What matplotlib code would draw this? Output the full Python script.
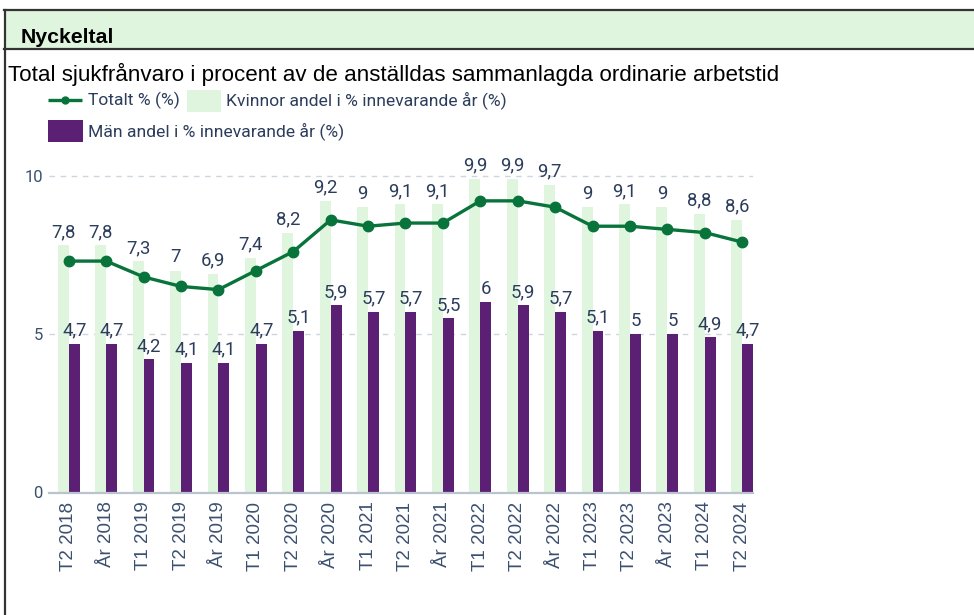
import matplotlib
matplotlib.use('Agg')
import matplotlib.pyplot as plt
import numpy as np
from matplotlib.lines import Line2D
from matplotlib.patches import Rectangle

perioder = ['T2 2018', 'År 2018', 'T1 2019', 'T2 2019', 'År 2019', 'T1 2020', 'T2 2020',
            'År 2020', 'T1 2021', 'T2 2021', 'År 2021', 'T1 2022', 'T2 2022', 'År 2022',
            'T1 2023', 'T2 2023', 'År 2023', 'T1 2024', 'T2 2024']
kvinnor = [7.8, 7.8, 7.3, 7.0, 6.9, 7.4, 8.2, 9.2, 9.0, 9.1, 9.1, 9.9, 9.9, 9.7, 9.0, 9.1, 9.0, 8.8, 8.6]
man = [4.7, 4.7, 4.2, 4.1, 4.1, 4.7, 5.1, 5.9, 5.7, 5.7, 5.5, 6.0, 5.9, 5.7, 5.1, 5.0, 5.0, 4.9, 4.7]
totalt = [7.3, 7.3, 6.8, 6.5, 6.4, 7.0, 7.6, 8.6, 8.4, 8.5, 8.5, 9.2, 9.2, 9.0, 8.4, 8.4, 8.3, 8.2, 7.9]

W, H = 974, 615
GRON_LJUS = '#dff5dd'
LILA = '#5b1f74'
GRON = '#08733a'
TXT = '#2c3d5c'
AXTXT = '#3b5070'

def fx(x): return x / W
def fy(y): return 1 - y / H

fig = plt.figure(figsize=(W / 100, H / 100), dpi=100)

# ram och rubrikfält
fig.add_artist(Rectangle((fx(5), fy(49)), 1 - fx(5), fy(10) - fy(49), transform=fig.transFigure,
                         facecolor=GRON_LJUS, edgecolor='none', zorder=0))
fig.add_artist(Line2D([fx(4), 1], [fy(10), fy(10)], transform=fig.transFigure, color='#333333', lw=1.6))
fig.add_artist(Line2D([fx(4), 1], [fy(49), fy(49)], transform=fig.transFigure, color='#333333', lw=1.6))
fig.add_artist(Line2D([fx(5), fx(5)], [fy(10), 0], transform=fig.transFigure, color='#333333', lw=1.6))
fig.text(fx(21), fy(43), 'Nyckeltal', fontsize=15.3, fontweight='bold', family='Liberation Sans',
         color='black', va='baseline')
fig.text(fx(8), fy(80.5), 'Total sjukfrånvaro i procent av de anställdas sammanlagda ordinarie arbetstid',
         fontsize=16.1, family='Liberation Sans', color='black', va='baseline')

# legend (flödeslayout)
fig.add_artist(Line2D([fx(48), fx(82)], [fy(100), fy(100)], transform=fig.transFigure, color=GRON,
                      lw=2.4, solid_capstyle='butt'))
fig.add_artist(Line2D([fx(65)], [fy(100)], transform=fig.transFigure, color=GRON, marker='o', markersize=5))
fig.text(fx(88), fy(100), 'Totalt % (%)', fontsize=12.6, family='Roboto', color=TXT, va='center')
fig.add_artist(Rectangle((fx(187), fy(112)), fx(34), fy(90) - fy(112), transform=fig.transFigure,
                         facecolor=GRON_LJUS, edgecolor='none'))
fig.text(fx(226), fy(100), 'Kvinnor andel i % innevarande år (%)', fontsize=12.6, family='Roboto',
         color=TXT, va='center')
fig.add_artist(Rectangle((fx(48), fy(142)), fx(35), fy(120) - fy(142), transform=fig.transFigure,
                         facecolor=LILA, edgecolor='none'))
fig.text(fx(88), fy(131), 'Män andel i % innevarande år (%)', fontsize=12.6, family='Roboto',
         color=TXT, va='center')

ax = fig.add_axes([fx(49), fy(492.5), fx(753 - 49), 10.5 * 31.7 / H])
x = np.arange(len(perioder))
w = 0.29
ax.bar(x - w / 2, kvinnor, w, color=GRON_LJUS, zorder=2)
ax.bar(x + w / 2, man, w, color=LILA, zorder=2)
ax.plot(x, totalt, color=GRON, lw=2.4, marker='o', markersize=7.5, zorder=4)

def fmt(v):
    return f'{v:g}'.replace('.', ',')

for xi, k, m in zip(x, kvinnor, man):
    ax.annotate(fmt(k), (xi - w / 2, k), xytext=(0, 3), textcoords='offset points', ha='center',
                va='bottom', fontsize=13.3, family='Roboto', color=TXT, zorder=5)
    ax.annotate(fmt(m), (xi + w / 2, m), xytext=(0, 3), textcoords='offset points', ha='center',
                va='bottom', fontsize=13.3, family='Roboto', color=TXT, zorder=5)

ax.set_xlim(-0.53, 18.29)
ax.set_ylim(0, 10.5)
ax.set_yticks([0, 5, 10])
ax.set_yticklabels(['0', '5', '10'], family='Roboto', fontsize=12, color=AXTXT)
ax.set_xticks(x)
ax.set_xticklabels(perioder, rotation=90, family='Liberation Sans', fontsize=13.5, color=AXTXT)
ax.tick_params(axis='both', length=0)
ax.tick_params(axis='y', pad=4.5)
ax.tick_params(axis='x', pad=6.5)
for s in ['top', 'right', 'left']:
    ax.spines[s].set_visible(False)
ax.spines['bottom'].set_color('#b9c4cf')
ax.spines['bottom'].set_linewidth(1.6)
ax.spines['bottom'].set_zorder(6)
ax.yaxis.grid(True, ls=(0, (4, 4)), color='#cdd5de', lw=1, zorder=1)
ax.set_axisbelow(True)
ax.patch.set_alpha(0)

fig.savefig('out.png', dpi=100)
